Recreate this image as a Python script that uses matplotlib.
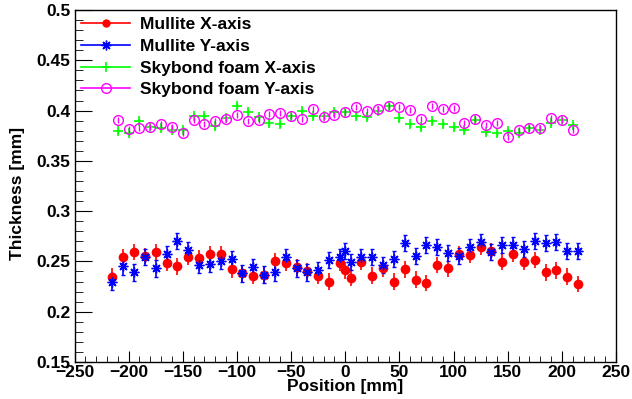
import matplotlib
matplotlib.use("Agg")
import matplotlib.pyplot as plt
from matplotlib.lines import Line2D
from matplotlib.ticker import MultipleLocator, FormatStrFormatter
import numpy as np

plt.rcParams["font.family"] = ["Liberation Sans", "DejaVu Sans"]
plt.rcParams["font.weight"] = "bold"

# Mullite: 10 mm steps, shifted by 5 mm, plus one point at 0
mullite_pos = [-215, -205, -195, -185, -175, -165, -155, -145, -135, -125,
               -115, -105, -95, -85, -75, -65, -55, -45, -35, -25, -15, -5,
               0, 5, 15, 25, 35, 45, 55, 65, 75, 85, 95, 105, 115, 125, 135,
               145, 155, 165, 175, 185, 195, 205, 215]
mullite_x = [0.235, 0.254, 0.259, 0.255, 0.259, 0.248, 0.245, 0.254, 0.253, 0.257,
             0.257, 0.242, 0.238, 0.236, 0.237, 0.250, 0.248, 0.244, 0.240, 0.236,
             0.230, 0.248, 0.241, 0.234, 0.249, 0.236, 0.243, 0.230, 0.242, 0.232,
             0.229, 0.246, 0.243, 0.257, 0.256, 0.264, 0.260, 0.249, 0.257, 0.249,
             0.251, 0.239, 0.241, 0.235, 0.228]
mullite_y = [0.230, 0.245, 0.239, 0.254, 0.243, 0.257, 0.270, 0.261, 0.246, 0.247,
             0.250, 0.252, 0.238, 0.244, 0.237, 0.239, 0.254, 0.243, 0.239, 0.241,
             0.251, 0.254, 0.260, 0.249, 0.254, 0.254, 0.246, 0.252, 0.268, 0.255,
             0.266, 0.264, 0.258, 0.255, 0.264, 0.269, 0.259, 0.266, 0.266, 0.262,
             0.270, 0.268, 0.269, 0.260, 0.260]
mullite_err = 0.008

foam_pos = list(range(-210, 211, 10))
foam_x = [0.380, 0.378, 0.390, 0.384, 0.383, 0.381, 0.381, 0.395, 0.395, 0.385,
          0.393, 0.405, 0.399, 0.394, 0.388, 0.387, 0.395, 0.400, 0.395, 0.395,
          0.399, 0.399, 0.395, 0.394, 0.400, 0.405, 0.393, 0.387, 0.384, 0.390,
          0.387, 0.384, 0.381, 0.391, 0.379, 0.378, 0.380, 0.378, 0.383, 0.381,
          0.388, 0.391, 0.386]
foam_y = [0.391, 0.382, 0.383, 0.384, 0.387, 0.384, 0.378, 0.391, 0.387, 0.390,
          0.392, 0.396, 0.390, 0.391, 0.397, 0.398, 0.395, 0.392, 0.402, 0.394,
          0.396, 0.399, 0.404, 0.400, 0.402, 0.405, 0.404, 0.401, 0.392, 0.405,
          0.402, 0.403, 0.388, 0.392, 0.386, 0.388, 0.374, 0.381, 0.383, 0.383,
          0.393, 0.391, 0.381]
foam_err = 0.003

labels = ["Mullite X-axis", "Mullite Y-axis", "Skybond foam X-axis", "Skybond foam Y-axis"]
colors = ["#ff0000", "#0000ff", "#00ff00", "#ff00ff"]

fig = plt.figure(figsize=(6.32, 3.99), dpi=100)
W, H = 632, 399
left, right, top, bottom = 74.5, 616, 10, 362
ax = fig.add_axes([left / W, 1 - bottom / H, (right - left) / W, (bottom - top) / H])

star = (8, 2, 0)
ax.errorbar(mullite_pos, mullite_x, yerr=mullite_err, fmt="o", color=colors[0],
            ms=7, mew=0, elinewidth=1.2, capsize=1.5, ecolor=colors[0], zorder=3)
ax.errorbar(mullite_pos, mullite_y, yerr=mullite_err, fmt="none", ecolor=colors[1],
            elinewidth=1.2, capsize=1.5, zorder=3)
ax.plot(mullite_pos, mullite_y, ls="none", marker=star, ms=7, color=colors[1], mew=1, zorder=4)
ax.errorbar(foam_pos, foam_x, yerr=foam_err, fmt="none", ecolor=colors[2], elinewidth=1, zorder=3)
ax.plot(foam_pos, foam_x, ls="none", marker="+", ms=7, color=colors[2], mew=1.2, zorder=3)
ax.errorbar(foam_pos, foam_y, yerr=foam_err, fmt="o", color=colors[3], mfc="none",
            ms=7, mew=1, elinewidth=1, zorder=4)

ax.set_xlim(-250, 250)
ax.set_ylim(0.15, 0.5)
ax.xaxis.set_major_locator(MultipleLocator(50))
ax.xaxis.set_minor_locator(MultipleLocator(10))
ax.yaxis.set_major_locator(MultipleLocator(0.05))
ax.yaxis.set_minor_locator(MultipleLocator(0.01))
ax.yaxis.set_major_formatter(FormatStrFormatter("%g"))
ax.tick_params(which="both", direction="in", top=False, right=False, labelsize=12.5)
ax.tick_params(axis="y", which="major", length=12, pad=3)
ax.tick_params(axis="y", which="minor", length=6)
ax.tick_params(axis="x", which="major", length=8, pad=2)
ax.tick_params(axis="x", which="minor", length=4)
for lab in ax.get_xticklabels() + ax.get_yticklabels():
    lab.set_fontweight("bold")
for s in ax.spines.values():
    s.set_linewidth(1)

fig.text(0.5 * (left + right) / W, 1 - 386 / H, "Position [mm]", ha="center", va="center",
         fontsize=12.5, fontweight="bold")
fig.text(18 / W, 1 - 193 / H, "Thickness [mm]", ha="center", va="center", rotation=90,
         fontsize=12.5, fontweight="bold")

handles = [
    Line2D([], [], color=colors[0], marker="o", ms=6, mew=0, lw=1.2),
    Line2D([], [], color=colors[1], marker=star, ms=7, lw=1.2),
    Line2D([], [], color=colors[2], marker="+", ms=7, mew=1.2, lw=1.2),
    Line2D([], [], color=colors[3], marker="o", mfc="none", ms=7, lw=1.2),
]
ax.legend(handles, labels, loc="upper left", bbox_to_anchor=(0.0, 1.0), frameon=False,
          handlelength=2.8, handletextpad=0.6, labelspacing=0.38,
          borderaxespad=0.2, borderpad=0.2, prop={"weight": "bold", "size": 12.5})

fig.savefig("out.png", dpi=100)
